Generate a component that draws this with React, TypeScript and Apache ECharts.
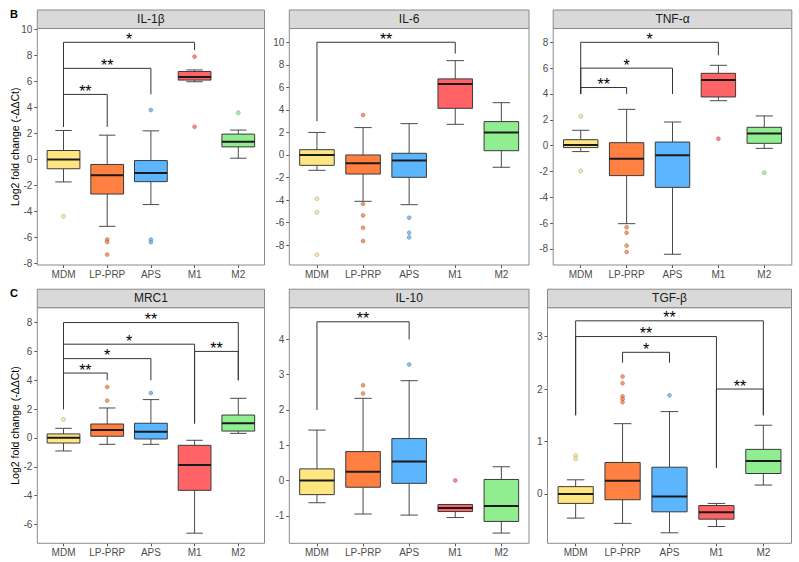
import React, { useEffect, useRef } from "react";
import * as echarts from "echarts";

const categories = ["MDM", "LP-PRP", "APS", "M1", "M2"];
const genes = ["IL-1β", "IL-6", "TNF-α", "MRC1", "IL-10", "TGF-β"];
const yAxisTitle = "Log2 fold change (-ΔΔCt)";
const rowTags = ["B", "C"];

// box statistics per category: [lower whisker, Q1, median, Q3, upper whisker]
const il1bStats = [
  [-1.72, -0.71, 0.0, 0.69, 2.23],
  [-5.13, -2.65, -1.21, -0.38, 1.87],
  [-3.46, -1.7, -1.03, -0.08, 2.2],
  [5.97, 6.1, 6.33, 6.76, 6.88],
  [0.1, 0.97, 1.36, 1.95, 2.26],
];
const il6Stats = [
  [-1.36, -0.92, 0.0, 0.47, 2.0],
  [-4.11, -1.69, -0.74, 0.0, 2.43],
  [-4.41, -1.98, -0.5, 0.15, 2.78],
  [2.72, 4.14, 6.3, 6.75, 8.37],
  [-1.09, 0.38, 2.0, 2.96, 4.64],
];
const tnfaStats = [
  [-0.46, -0.15, 0.05, 0.46, 1.19],
  [-6.04, -2.32, -1.01, 0.23, 2.81],
  [-8.41, -3.23, -0.75, 0.28, 1.83],
  [3.48, 3.77, 5.08, 5.6, 6.22],
  [-0.21, 0.18, 0.95, 1.42, 2.3],
];
const mrc1Stats = [
  [-0.9, -0.35, 0.02, 0.28, 0.67],
  [-0.44, 0.12, 0.55, 0.97, 2.08],
  [-0.44, -0.07, 0.44, 1.02, 2.66],
  [-6.6, -3.63, -1.87, -0.51, -0.16],
  [0.32, 0.48, 1.02, 1.59, 2.75],
];
const il10Stats = [
  [-0.63, -0.4, 0.0, 0.33, 1.43],
  [-0.95, -0.19, 0.25, 0.82, 2.33],
  [-0.98, -0.08, 0.54, 1.19, 2.83],
  [-1.05, -0.88, -0.78, -0.68, -0.68],
  [-1.49, -1.16, -0.72, 0.03, 0.39],
];
const tgfbStats = [
  [-0.46, -0.18, 0.0, 0.14, 0.27],
  [-0.56, -0.11, 0.25, 0.6, 1.34],
  [-0.74, -0.34, -0.05, 0.51, 1.57],
  [-0.62, -0.48, -0.35, -0.22, -0.18],
  [0.17, 0.39, 0.63, 0.85, 1.31],
];

// outliers: [category, value]
const il1bOutliers: [string, number][] = [
  ["MDM", -4.36], ["LP-PRP", -6.15], ["LP-PRP", -6.33], ["LP-PRP", -7.3],
  ["APS", 3.8], ["APS", -6.15], ["APS", -6.35], ["M1", 7.9], ["M1", 2.51], ["M2", 3.59],
];
const il6Outliers: [string, number][] = [
  ["MDM", -3.88], ["MDM", -5.09], ["MDM", -8.85],
  ["LP-PRP", 3.55], ["LP-PRP", -4.35], ["LP-PRP", -5.36], ["LP-PRP", -6.45], ["LP-PRP", -7.63],
  ["APS", -5.56], ["APS", -6.89], ["APS", -7.31],
];
const tnfaOutliers: [string, number][] = [
  ["MDM", 2.27], ["MDM", -1.96],
  ["LP-PRP", -6.32], ["LP-PRP", -6.74], ["LP-PRP", -7.74], ["LP-PRP", -8.23],
  ["M1", 0.54], ["M2", -2.09],
];
const mrc1Outliers: [string, number][] = [
  ["MDM", 1.29], ["LP-PRP", 3.53], ["LP-PRP", 2.59], ["APS", 3.12],
];
const il10Outliers: [string, number][] = [
  ["LP-PRP", 2.7], ["LP-PRP", 2.47], ["APS", 3.29], ["M1", 0.0],
];
const tgfbOutliers: [string, number][] = [
  ["MDM", 0.73], ["MDM", 0.67],
  ["LP-PRP", 2.24], ["LP-PRP", 2.11], ["LP-PRP", 1.86], ["LP-PRP", 1.81], ["LP-PRP", 1.75],
  ["APS", 1.88],
];

// significance brackets: [from, to, bracket level, from-leg end, to-leg end, label]
type Bracket = [string, string, number, number, number, string];
const il1bBrackets: Bracket[] = [
  ["MDM", "LP-PRP", 5, 2.5, 2.5, "**"],
  ["MDM", "APS", 7, 2.5, 5, "**"],
  ["MDM", "M1", 9, 2.5, 8.4, "*"],
];
const il6Brackets: Bracket[] = [["MDM", "M1", 10, 3, 9, "**"]];
const tnfaBrackets: Bracket[] = [
  ["MDM", "LP-PRP", 4.5, 4, 4, "**"],
  ["MDM", "APS", 6, 4, 4, "*"],
  ["MDM", "M1", 8, 4, 7, "*"],
];
const mrc1Brackets: Bracket[] = [
  ["MDM", "LP-PRP", 4.5, 2, 4, "**"],
  ["MDM", "APS", 5.5, 2, 4, "*"],
  ["MDM", "M1", 6.5, 2, 1, "*"],
  ["M1", "M2", 6, 1, 4, "**"],
  ["MDM", "M2", 8, 2, 4, "**"],
];
const il10Brackets: Bracket[] = [["MDM", "APS", 4.5, 2, 4, "**"]];
const tgfbBrackets: Bracket[] = [
  ["MDM", "M2", 3.3, 1.5, 1.5, "**"],
  ["MDM", "M1", 3.0, 1.5, 0.5, "**"],
  ["LP-PRP", "APS", 2.7, 2.5, 2.5, "*"],
  ["M1", "M2", 2.0, 0.5, 1.5, "**"],
];

// y tick labels
const il1bTicks = [-8, -6, -4, -2, 0, 2, 4, 6, 8, 10];
const il6Ticks = [-8, -6, -4, -2, 0, 2, 4, 6, 8, 10];
const tnfaTicks = [-8, -6, -4, -2, 0, 2, 4, 6, 8];
const mrc1Ticks = [-6, -4, -2, 0, 2, 4, 6, 8];
const il10Ticks = [-1, 0, 1, 2, 3, 4];
const tgfbTicks = [0, 1, 2, 3];

// styling / layout (kept separate from data)
const palette = ["#FFE680", "#FF8040", "#5CB5FF", "#FF6366", "#90EE90"];
const FONT = '"Liberation Sans", Arial, Helvetica, sans-serif';
const layout = [
  { l: 37.3, t: 28.5, r: 264.5, b: 265, yMin: -8.1, yMax: 10.06, title: true },
  { l: 289.3, t: 28.5, r: 529, b: 265, yMin: -9.76, yMax: 11.22, title: false },
  { l: 553.2, t: 28.5, r: 791.8, b: 265, yMin: -9.24, yMax: 9.07, title: false },
  { l: 37.3, t: 307.7, r: 264.5, b: 543.3, yMin: -7.3, yMax: 9.03, title: true },
  { l: 289.3, t: 307.7, r: 529, b: 543.3, yMin: -1.78, yMax: 4.9, title: false },
  { l: 547.5, t: 307.7, r: 791.5, b: 543.3, yMin: -0.94, yMax: 3.55, title: false },
];
const STRIP_H = 18.5;

const panelData = [
  { stats: il1bStats, outliers: il1bOutliers, brackets: il1bBrackets, ticks: il1bTicks },
  { stats: il6Stats, outliers: il6Outliers, brackets: il6Brackets, ticks: il6Ticks },
  { stats: tnfaStats, outliers: tnfaOutliers, brackets: tnfaBrackets, ticks: tnfaTicks },
  { stats: mrc1Stats, outliers: mrc1Outliers, brackets: mrc1Brackets, ticks: mrc1Ticks },
  { stats: il10Stats, outliers: il10Outliers, brackets: il10Brackets, ticks: il10Ticks },
  { stats: tgfbStats, outliers: tgfbOutliers, brackets: tgfbBrackets, ticks: tgfbTicks },
];

const catPos = (c: string) => categories.indexOf(c) + 1;

function buildOption() {
  const grid: any[] = [];
  const xAxis: any[] = [];
  const yAxis: any[] = [];
  const series: any[] = [];
  const graphic: any[] = [];

  layout.forEach((p, i) => {
    const d = panelData[i];
    grid.push({
      left: p.l, top: p.t, width: p.r - p.l, height: p.b - p.t,
      containLabel: false, outerBoundsMode: "none", show: false,
    });
    const xs = categories.map((_, k) => k + 1);
    xAxis.push({
      type: "value", gridIndex: i, min: 0.4, max: 5.6, position: "bottom",
      axisLine: { show: false, onZero: false }, splitLine: { show: false },
      axisTick: { show: true, customValues: xs, length: 3, lineStyle: { color: "#555", width: 1 } },
      axisLabel: {
        customValues: xs, margin: 4, color: "#4D4D4D", fontSize: 10, fontFamily: FONT,
        formatter: (v: number) => categories[Math.round(v) - 1] ?? "",
      },
      axisPointer: { show: false },
    });
    yAxis.push({
      type: "value", gridIndex: i, min: p.yMin, max: p.yMax, position: "left",
      axisLine: { show: false, onZero: false }, splitLine: { show: false },
      axisTick: { show: true, customValues: d.ticks, length: 3, lineStyle: { color: "#555", width: 1 } },
      axisLabel: { customValues: d.ticks, margin: 5, color: "#4D4D4D", fontSize: 10, fontFamily: FONT },
      name: p.title ? yAxisTitle : "",
      nameLocation: "middle", nameGap: 17, nameMoveOverlap: false,
      nameTextStyle: { color: "#000", fontSize: 10.5, fontFamily: FONT },
      axisPointer: { show: false },
    });

    // boxes: each row [x, lower whisker, Q1, median, Q3, upper whisker]
    const boxRows = d.stats.map((s, k) => [k + 1, ...s]);
    series.push({
      type: "custom", xAxisIndex: i, yAxisIndex: i, silent: true,
      data: boxRows,
      renderItem: (params: any, api: any) => {
        const row = boxRows[params.dataIndex];
        const x = row[0];
        const lo = api.coord([x, row[1]]);
        const q1 = api.coord([x, row[2]]);
        const md = api.coord([x, row[3]]);
        const q3 = api.coord([x, row[4]]);
        const hi = api.coord([x, row[5]]);
        const u = api.size([1, 0])[0];
        const bw = u * 0.75;
        const cw = bw * 0.5;
        const cx = lo[0];
        const ls = { stroke: "#4A4A4A", lineWidth: 1 };
        return {
          type: "group",
          children: [
            { type: "line", shape: { x1: cx, y1: hi[1], x2: cx, y2: q3[1] }, style: ls },
            { type: "line", shape: { x1: cx, y1: q1[1], x2: cx, y2: lo[1] }, style: ls },
            { type: "line", shape: { x1: cx - cw / 2, y1: hi[1], x2: cx + cw / 2, y2: hi[1] }, style: ls },
            { type: "line", shape: { x1: cx - cw / 2, y1: lo[1], x2: cx + cw / 2, y2: lo[1] }, style: ls },
            {
              type: "rect",
              shape: { x: cx - bw / 2, y: q3[1], width: bw, height: Math.max(q1[1] - q3[1], 0.5) },
              style: { fill: palette[params.dataIndex], stroke: "#3A3A3A", lineWidth: 1 },
            },
            {
              type: "line",
              shape: { x1: cx - bw / 2, y1: md[1], x2: cx + bw / 2, y2: md[1] },
              style: { stroke: "#1A1A1A", lineWidth: 2 },
            },
          ],
        };
      },
    });

    // outliers
    series.push({
      type: "scatter", xAxisIndex: i, yAxisIndex: i, symbol: "circle", symbolSize: 4, silent: true,
      data: d.outliers.map(([c, v]) => ({
        value: [catPos(c), v],
        itemStyle: { color: palette[catPos(c) - 1], borderColor: "rgba(0,0,0,0.4)", borderWidth: 0.6 },
      })),
      z: 3,
    });

    // significance brackets
    const brRows = d.brackets.map((b) => [catPos(b[0]), b[2], catPos(b[1]), b[3], b[4]]);
    const labels = d.brackets.map((b) => b[5]);
    series.push({
      type: "custom", xAxisIndex: i, yAxisIndex: i, z: 4, silent: true,
      data: brRows,
      renderItem: (params: any, api: any) => {
        const [x1, y, x2, e1, e2] = brRows[params.dataIndex];
        const p1 = api.coord([x1, e1]);
        const p2 = api.coord([x1, y]);
        const p3 = api.coord([x2, y]);
        const p4 = api.coord([x2, e2]);
        return {
          type: "group",
          children: [
            {
              type: "polyline",
              shape: { points: [p1, p2, p3, p4] },
              style: { stroke: "#333", lineWidth: 1, fill: "none" },
            },
            {
              type: "text",
              x: (p2[0] + p3[0]) / 2, y: p2[1] - 3,
              style: {
                text: labels[params.dataIndex], fontSize: 16, fontFamily: FONT,
                align: "center", verticalAlign: "middle", fill: "#000",
              },
            },
          ],
        };
      },
    });

    // panel border, strip, strip text
    graphic.push({
      type: "rect", z: 100, silent: true,
      shape: { x: p.l, y: p.t, width: p.r - p.l, height: p.b - p.t },
      style: { fill: "none", stroke: "#8A8A8A", lineWidth: 1 },
    });
    graphic.push({
      type: "rect", z: 100, silent: true,
      shape: { x: p.l, y: p.t - STRIP_H, width: p.r - p.l, height: STRIP_H },
      style: { fill: "#D9D9D9", stroke: "#8A8A8A", lineWidth: 1 },
    });
    graphic.push({
      type: "text", z: 101, silent: true,
      x: (p.l + p.r) / 2, y: p.t - STRIP_H / 2,
      style: {
        text: genes[i], fontSize: 12, fontFamily: FONT, fill: "#1A1A1A",
        align: "center", verticalAlign: "middle",
      },
    });
  });

  rowTags.forEach((tag, r) => {
    graphic.push({
      type: "text", z: 101, silent: true,
      x: 10, y: r === 0 ? 14 : 293,
      style: {
        text: tag, fontSize: 11, fontWeight: "bold", fontFamily: FONT, fill: "#000",
        align: "left", verticalAlign: "middle",
      },
    });
  });

  return { animation: false, backgroundColor: "#fff", grid, xAxis, yAxis, series, graphic };
}

export default function App() {
  const ref = useRef<HTMLDivElement>(null);
  useEffect(() => {
    if (!ref.current) return;
    const chart = echarts.init(ref.current, null, { renderer: "svg" });
    chart.setOption(buildOption() as any);
    return () => chart.dispose();
  }, []);
  return (
    <div
      ref={ref}
      style={{ position: "fixed", left: 0, top: 0, width: 799, height: 562, background: "#fff" }}
    />
  );
}
